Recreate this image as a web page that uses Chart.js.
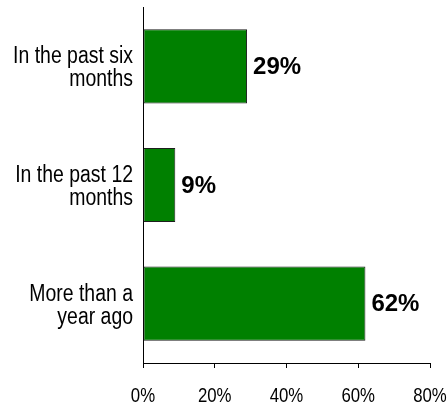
<!DOCTYPE html>
<html>
<head>
<meta charset="utf-8">
<script src="https://cdn.jsdelivr.net/npm/chart.js@4/dist/chart.umd.min.js"></script>
<style>
  html, body { margin: 0; padding: 0; background: #fff; }
  #wrap { width: 448px; height: 406px; }
</style>
</head>
<body>
<div id="wrap"><canvas id="chart" width="448" height="406"></canvas></div>
<script>
const categories = [['In the past six', 'months'], ['In the past 12', 'months'], ['More than a', 'year ago']]
const values = [29, 9, 62]
const xTicks = [0, 20, 40, 60, 80]

// no narrow font installed, so axis labels are drawn squeezed horizontally
const narrowText = (ctx, text, x, y, squeeze) => {
  ctx.save()
  ctx.translate(x, y)
  ctx.scale(squeeze, 1)
  ctx.fillText(text, 0, 0)
  ctx.restore()
}

const axisLabels = {
  id: 'axisLabels',
  afterDraw(chart) {
    const ctx = chart.ctx
    const xs = chart.scales.x, ys = chart.scales.y
    ctx.save()
    ctx.fillStyle = '#000'
    ctx.textBaseline = 'alphabetic'

    ctx.font = '23px "Liberation Sans", Arial, sans-serif'
    ctx.textAlign = 'right'
    categories.forEach((lines, i) => {
      const py = ys.getPixelForValue(i)
      lines.forEach((line, j) => narrowText(ctx, line, ys.right - 10, py - 3 + j * 23, 0.845))
    })

    ctx.font = '21px "Liberation Sans", Arial, sans-serif'
    ctx.textAlign = 'center'
    xTicks.forEach(v => narrowText(ctx, v + '%', xs.getPixelForValue(v), xs.top + 39, 0.8))

    // value labels right of each bar
    ctx.font = 'bold 24px "Liberation Sans", Arial, sans-serif'
    ctx.textAlign = 'left'
    ctx.textBaseline = 'middle'
    chart.getDatasetMeta(0).data.forEach((bar, i) => {
      ctx.fillText(values[i] + '%', bar.x + 6, bar.y + 1)
    })
    ctx.restore()
  }
}

const noPadding = scale => {
  scale.paddingTop = 0
  scale.paddingBottom = 0
  scale.paddingLeft = 0
  scale.paddingRight = 0
}

new Chart(document.getElementById('chart'), {
  type: 'bar',
  data: {
    labels: categories,
    datasets: [{
      data: values,
      backgroundColor: '#008000',
      borderColor: '#1e1e1e',
      borderWidth: 1,
      borderSkipped: false,
      categoryPercentage: 1,
      barPercentage: 0.625
    }]
  },
  options: {
    indexAxis: 'y',
    responsive: false,
    animation: false,
    devicePixelRatio: 1,
    layout: {padding: {top: 7, right: 18, left: 0, bottom: 0}},
    plugins: {legend: {display: false}, tooltip: {enabled: false}},
    scales: {
      x: {
        min: 0,
        max: 80,
        afterBuildTicks: scale => { scale.ticks = xTicks.map(v => ({value: v})) },
        afterFit: scale => { scale.height = 43; noPadding(scale) },
        border: {display: true, color: '#000', width: 1},
        grid: {display: true, drawOnChartArea: false, drawTicks: true, tickLength: 5, color: '#000'},
        ticks: {display: false}
      },
      y: {
        afterFit: scale => { scale.width = 143; noPadding(scale) },
        border: {display: true, color: '#000', width: 1},
        grid: {display: false},
        ticks: {display: false}
      }
    }
  },
  plugins: [axisLabels]
})
</script>
</body>
</html>
